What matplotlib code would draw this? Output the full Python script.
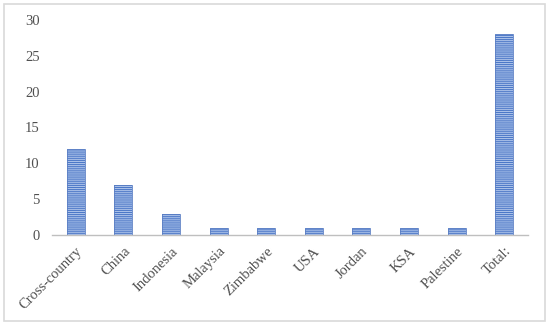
import matplotlib.pyplot as plt
from matplotlib.patches import Rectangle

categories = ["Cross-country", "China", "Indonesia", "Malaysia", "Zimbabwe",
              "USA", "Jordan", "KSA", "Palestine", "Total:"]
counts = [12, 7, 3, 1, 1, 1, 1, 1, 1, 28]
y_ticks = [0, 5, 10, 15, 20, 25, 30]

plt.rcParams["font.family"] = ["Liberation Serif", "DejaVu Serif"]
plt.rcParams["hatch.linewidth"] = 0.8

fig = plt.figure(figsize=(5.5, 3.25), dpi=100)
ax = fig.add_axes([52 / 550, 1 - 235 / 325, 476 / 550, 215 / 325])

x = list(range(len(categories)))
ax.bar(x, counts, width=0.38, color="#4A76C6", edgecolor="#A9C0E8",
       hatch="--------", linewidth=0)
ax.bar(x, counts, width=0.38, color="none", edgecolor="#5B7FC4", linewidth=0.6)

ax.set_xlim(-0.5, len(categories) - 0.5)
ax.set_ylim(0, 30)
ax.set_yticks(y_ticks)
ax.set_xticks(x)
ax.set_xticklabels(categories, rotation=45, ha="right", rotation_mode="anchor")
ax.tick_params(axis="both", length=0, labelsize=10.5, colors="#505050")
ax.tick_params(axis="y", pad=9)
ax.tick_params(axis="x", pad=7)

for side in ["top", "right", "left"]:
    ax.spines[side].set_visible(False)
ax.spines["bottom"].set_color("#BFBFBF")
ax.spines["bottom"].set_linewidth(1.0)

# outer chart frame
fig.patches.append(Rectangle((4 / 550, 4 / 325), 541 / 550, 317 / 325,
                             transform=fig.transFigure, fill=False,
                             edgecolor="#D9D9D9", linewidth=1.2))

fig.savefig("out.png", dpi=100)
